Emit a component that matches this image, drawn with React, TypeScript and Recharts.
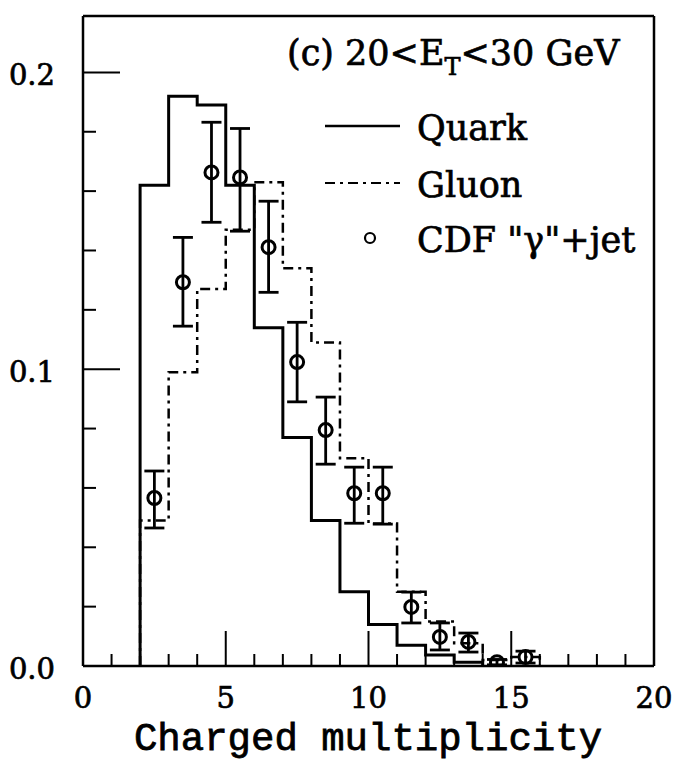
import React from 'react';
import { ComposedChart, ErrorBar, Line, ReferenceLine, Scatter, XAxis, YAxis } from 'recharts';

// bin low edges (charged multiplicity), bins are 1 wide
const quarkEdges = [2, 3, 4, 5, 6, 7, 8, 9, 10, 11, 12, 13, 14];
const quarkHeights = [0.162, 0.192, 0.189, 0.162, 0.114, 0.077, 0.049, 0.025, 0.014, 0.007, 0.0037, 0.0013];

const gluonEdges = [2, 3, 4, 5, 6, 7, 8, 9, 10, 11, 12, 13, 14, 15, 16];
const gluonHeights = [0.049, 0.099, 0.127, 0.147, 0.163, 0.134, 0.109, 0.07, 0.048, 0.025, 0.015, 0.0077, 0.002, 0.003];

// CDF "gamma"+jet data points
const cdfX = [2.5, 3.5, 4.5, 5.5, 6.5, 7.5, 8.5, 9.5, 10.5, 11.5, 12.5, 13.5, 14.5, 15.5];
const cdfY = [0.0566, 0.1293, 0.1663, 0.1646, 0.1411, 0.1024, 0.0795, 0.0582, 0.0582, 0.0199, 0.0098, 0.0081, 0.0013, 0.003];
const cdfErrDown = [0.0101, 0.0148, 0.0168, 0.0181, 0.0152, 0.0134, 0.0115, 0.0101, 0.0104, 0.0054, 0.0044, 0.0034, 0.0009, 0.002];
const cdfErrUp = [0.0091, 0.0151, 0.0169, 0.0165, 0.0155, 0.0134, 0.0111, 0.0088, 0.0088, 0.005, 0.0047, 0.003, 0.0009, 0.002];

const xTicks = [0, 1, 2, 3, 4, 5, 6, 7, 8, 9, 10, 11, 12, 13, 14, 15, 16, 17, 18, 19, 20];
const yTicks = [0, 0.02, 0.04, 0.06, 0.08, 0.1, 0.12, 0.14, 0.16, 0.18, 0.2];
const yTop = 0.219;

// step outline: rise at first edge, drop back to 0 after the last bin
const toSteps = (edges: number[], heights: number[]) => [
  { x: edges[0], y: 0 },
  ...heights.map((h, i) => ({ x: edges[i], y: h })),
  { x: edges[heights.length], y: 0 },
];

const quarkSteps = toSteps(quarkEdges, quarkHeights);
const gluonSteps = toSteps(gluonEdges, gluonHeights);
const cdfData = cdfX.map((x, i) => ({ x, y: cdfY[i], err: [cdfErrDown[i], cdfErrUp[i]] }));

const SERIF = '"DejaVu Serif", serif';
const MONO = '"Liberation Mono", monospace';
const DASHDOT = '10 5 3 5';
// scanned print looks heavier than the plain fonts
const ink = { fill: '#000', stroke: '#000', strokeWidth: 0.7 };

const XTick = ({ x, y, payload }: any) => {
  const v = payload.value;
  const major = v % 5 === 0;
  return (
    <g>
      <line x1={x} x2={x} y1={y} y2={y - (major ? 35 : 12)} stroke="#000" strokeWidth={2} />
      {major && (
        <text x={x} y={y + 42} textAnchor="middle" fontFamily={SERIF} fontSize={29} {...ink}>
          {v}
        </text>
      )}
    </g>
  );
};

const YTick = ({ x, y, payload }: any) => {
  const v = payload.value;
  const major = Math.abs(v * 10 - Math.round(v * 10)) < 1e-6;
  return (
    <g>
      <line x1={x} x2={x + (major ? 37 : 13)} y1={y} y2={y} stroke="#000" strokeWidth={2} />
      {major && (
        <text x={x - 28} y={y + 13} textAnchor="end" fontFamily={SERIF} fontSize={29} {...ink}>
          {v.toFixed(1)}
        </text>
      )}
    </g>
  );
};

const OpenCircle = (props: any) => (
  <circle cx={props.cx} cy={props.cy} r={6.5} fill="none" stroke="#000" strokeWidth={3} />
);

export default function App() {
  return (
    <div style={{ position: 'absolute', left: 0, top: 0, width: 675, height: 765, background: '#fff' }}>
      <ComposedChart width={675} height={765} margin={{ top: 16, right: 21, bottom: 39, left: 23 }}>
        <XAxis
          type="number"
          dataKey="x"
          domain={[0, 20]}
          ticks={xTicks}
          interval={0}
          allowDataOverflow
          height={60}
          tickSize={0}
          tickMargin={0}
          tickLine={false}
          axisLine={{ stroke: '#000', strokeWidth: 2.5 }}
          tick={<XTick />}
        />
        <YAxis
          type="number"
          dataKey="y"
          domain={[0, yTop]}
          ticks={yTicks}
          interval={0}
          allowDataOverflow
          width={60}
          tickSize={0}
          tickMargin={0}
          tickLine={false}
          axisLine={{ stroke: '#000', strokeWidth: 2.5 }}
          tick={<YTick />}
        />
        <ReferenceLine x={20} stroke="#000" strokeWidth={2.5} />
        <ReferenceLine y={yTop} stroke="#000" strokeWidth={2.5} />
        <Line
          data={gluonSteps}
          dataKey="y"
          type="stepAfter"
          stroke="#000"
          strokeWidth={2.5}
          strokeDasharray={DASHDOT}
          dot={false}
          isAnimationActive={false}
        />
        <Line
          data={quarkSteps}
          dataKey="y"
          type="stepAfter"
          stroke="#000"
          strokeWidth={3}
          dot={false}
          isAnimationActive={false}
        />
        <Scatter data={cdfData} dataKey="y" shape={<OpenCircle />} isAnimationActive={false}>
          <ErrorBar dataKey="err" direction="y" width={10} stroke="#000" strokeWidth={2.8} isAnimationActive={false} />
        </Scatter>
      </ComposedChart>
      <svg
        width={675}
        height={765}
        style={{ position: 'absolute', left: 0, top: 0, pointerEvents: 'none' }}
      >
        <text x={287} y={65} fontFamily={SERIF} fontSize={35} {...ink}>
          {'(c) 20<E'}
          <tspan fontSize={24} dy={10}>T</tspan>
          <tspan dy={-10}>{'<30 GeV'}</tspan>
        </text>
        <line x1={325} x2={400} y1={126} y2={126} stroke="#000" strokeWidth={2.5} />
        <text x={417} y={140} fontFamily={SERIF} fontSize={35} {...ink}>Quark</text>
        <line x1={325} x2={400} y1={183} y2={183} stroke="#000" strokeWidth={2.2} strokeDasharray={DASHDOT} />
        <text x={417} y={197} fontFamily={SERIF} fontSize={35} {...ink}>Gluon</text>
        <circle cx={370} cy={238} r={5} fill="none" stroke="#000" strokeWidth={2.2} />
        <text x={417} y={252} fontFamily={SERIF} fontSize={35} {...ink}>{'CDF "γ"+jet'}</text>
        <text x={368} y={750} textAnchor="middle" fontFamily={MONO} fontSize={39} {...ink} strokeWidth={0.8}>
          Charged multiplicity
        </text>
      </svg>
    </div>
  );
}
